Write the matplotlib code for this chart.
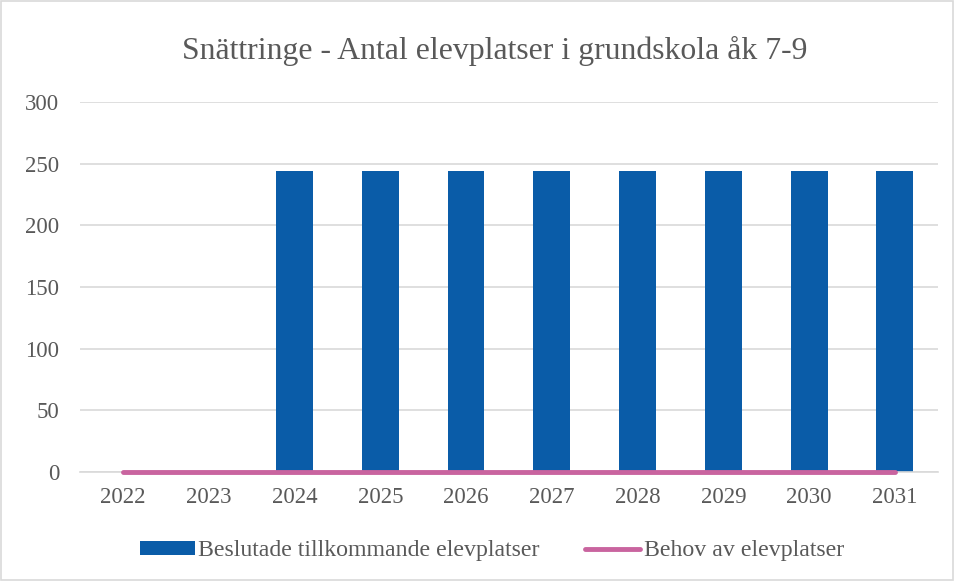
import matplotlib
matplotlib.use("Agg")
import matplotlib.pyplot as plt
from matplotlib.patches import Rectangle

years = ["2022", "2023", "2024", "2025", "2026", "2027", "2028", "2029", "2030", "2031"]
beslutade = [0, 0, 244, 244, 244, 244, 244, 244, 244, 244]
behov = [0, 0, 0, 0, 0, 0, 0, 0, 0, 0]
yticks = [0, 50, 100, 150, 200, 250, 300]
title = "Snättringe - Antal elevplatser i grundskola åk 7-9"
lab_bar = "Beslutade tillkommande elevplatser"
lab_line = "Behov av elevplatser"

plt.rcParams['font.family'] = ['Liberation Serif', 'DejaVu Serif']
txt = '#595959'
bar_col = '#0A5CA8'
line_col = '#C9649F'
grid_col = '#D9D9D9'

fig = plt.figure(figsize=(9.55, 5.81), dpi=100)
ax = fig.add_axes([0.0838, 0.1876, 0.8982, 0.6368])

x = list(range(len(years)))
bars = ax.bar(x, beslutade, width=0.43, color=bar_col, label=lab_bar, zorder=2)
line, = ax.plot(x, behov, color=line_col, lw=3.5, solid_capstyle='round', label=lab_line,
                zorder=3, clip_on=False)

ax.set_xlim(-0.5, len(years) - 0.5)
ax.set_ylim(0, 300)
ax.set_yticks(yticks)
ax.set_yticklabels([str(v) for v in yticks])
ax.set_xticks(x)
ax.set_xticklabels(years)
ax.tick_params(axis='both', length=0, labelsize=16.5, colors=txt)
ax.tick_params(axis='x', pad=11)
ax.tick_params(axis='y', pad=15)
ax.grid(axis='y', color=grid_col, lw=1.2, zorder=0)
ax.set_axisbelow(True)
for s in ['top', 'right', 'left']:
    ax.spines[s].set_visible(False)
ax.spines['bottom'].set_color(grid_col)
ax.spines['bottom'].set_linewidth(1.2)

fig.text(0.518, 0.912, title, ha='center', va='center', fontsize=22.9, color=txt)

leg = fig.legend([bars, line], [lab_bar, lab_line], loc='center', bbox_to_anchor=(0.515, 0.052),
                 ncol=2, frameon=False, fontsize=17.2, handlelength=2.3, handletextpad=0.15,
                 columnspacing=1.9, labelcolor=txt, handleheight=0.5)

fig.patches.append(Rectangle((0.001, 0.001), 0.997, 0.997, transform=fig.transFigure,
                             fill=False, edgecolor=grid_col, lw=1.2))

fig.savefig("out.png", dpi=100)
